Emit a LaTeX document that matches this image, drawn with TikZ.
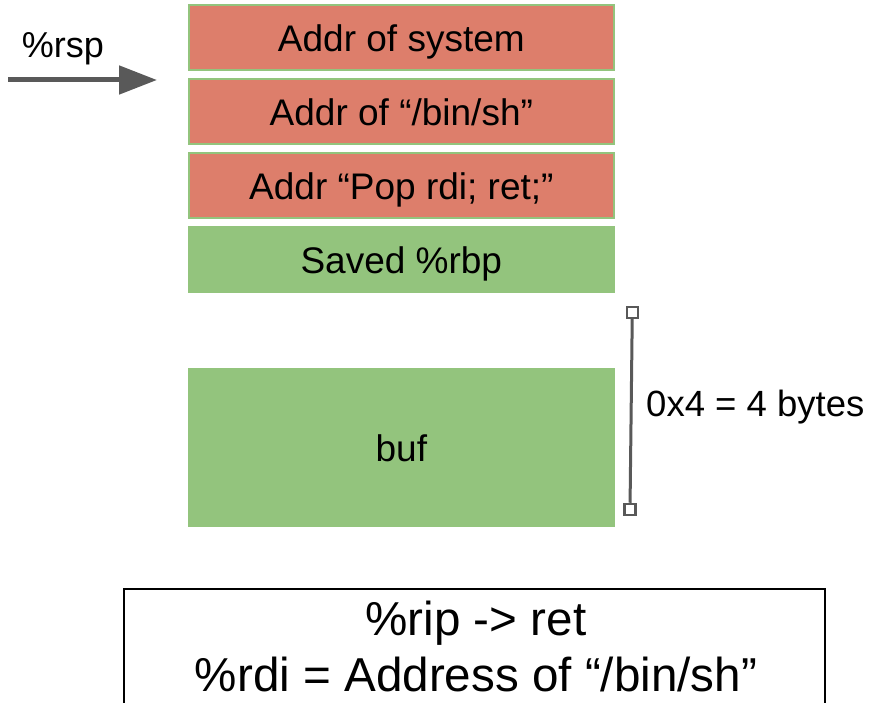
\documentclass[tikz,border=0pt]{standalone}
\usepackage{fontspec}
\setmainfont{Liberation Sans}
\usetikzlibrary{arrows.meta}
\definecolor{slotred}{HTML}{DD7E6B}
\definecolor{slotgreen}{HTML}{93C47D}
\definecolor{markgray}{HTML}{595959}

\begin{document}
\begin{tikzpicture}[x=1pt,y=-1pt,
  slot/.style={rectangle, draw=slotgreen, line width=2pt, inner sep=0pt,
    minimum width=424.7pt, minimum height=65pt,
    text height=28.4pt, text depth=0pt, font=\fontsize{37}{44}\selectfont},
  redslot/.style={slot, fill=slotred},
  greenslot/.style={slot, fill=slotgreen},
  endmark/.style={rectangle, draw=markgray, fill=white, line width=2.5pt,
    minimum size=11pt, inner sep=0pt},
  plain/.style={inner sep=0pt, font=\fontsize{#1}{#1}\selectfont},
]
\useasboundingbox (0,0) rectangle (881,703);

% stack frame slots
\node[redslot]   (sys)   at (401.35, 37.5)  {Addr of system};
\node[redslot]   (binsh) at (401.35, 111.5) {Addr of “/bin/sh”};
\node[redslot]   (gadget) at (401.35, 185.5) {Addr “Pop rdi; ret;”};
\node[greenslot] (rbp)   at (401.35, 259.5) {Saved \%rbp};
\node[greenslot, minimum height=157pt] (buf) at (401.35, 447.5) {buf};

% stack pointer
\node[plain=36, anchor=base west] (rsplabel) at (21.7, 58) {\%rsp};
\coordinate (rspfrom) at (8, 80);
\coordinate (rspto) at (157, 80);
\draw[markgray, line width=5pt, -{Triangle[length=38pt,width=28pt]}] (rspfrom) -- (rspto);

% size marker
\node[endmark] (mtop) at (632.3, 312.3) {};
\node[endmark] (mbot) at (630, 509.5) {};
\draw[markgray, line width=3pt] (mtop) -- (mbot);
\node[plain=36.5, anchor=base west] (sizelabel) at (646, 416) {0x4 = 4 bytes};

% register state
\node[rectangle, draw=black, line width=1.5pt, minimum width=701pt,
  minimum height=140pt, anchor=north, inner sep=0pt] (regbox) at (474.5, 588) {};
\node[plain=47.6, anchor=base] (ripline) at (476, 635) {\%rip -> ret};
\node[plain=47.6, anchor=base] (rdiline) at (476, 691.7) {\%rdi = Address of “/bin/sh”};
\end{tikzpicture}
\end{document}
